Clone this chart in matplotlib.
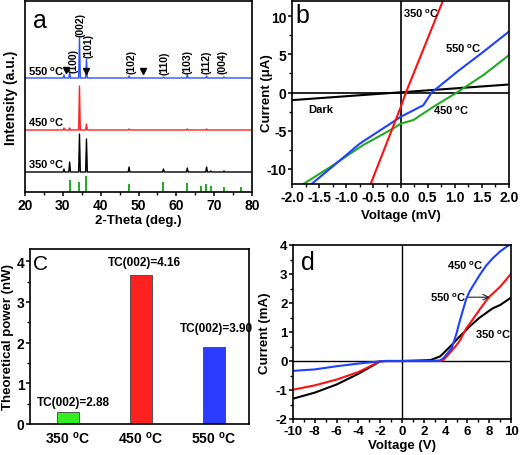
import matplotlib
matplotlib.use("Agg")
import matplotlib.pyplot as plt
import numpy as np
from matplotlib.ticker import MultipleLocator

plt.rcParams['font.family'] = ['Liberation Sans', 'DejaVu Sans']
plt.rcParams['font.weight'] = 'bold'
plt.rcParams['axes.labelweight'] = 'bold'
plt.rcParams['mathtext.fontset'] = 'custom'
plt.rcParams['mathtext.rm'] = 'Liberation Sans:bold'
plt.rcParams['mathtext.bf'] = 'Liberation Sans:bold'
plt.rcParams['axes.linewidth'] = 1.2
plt.rcParams['axes.unicode_minus'] = False

DEG = r'$^{\rm o}$C'

# ---------------- Panel a: XRD ----------------
xrd_peak_pos = [30.3, 31.8, 34.4, 36.25, 47.5, 56.6, 62.9, 68.0, 69.1, 72.6]
xrd_h550 = [3, 6, 40, 19, 2, 1, 3, 2, 0, 1]
xrd_h450 = [2, 2, 44, 6, 1, 0, 1, 1, 0, 0]
xrd_h350 = [3, 10, 38, 33, 5, 3, 4, 5, 1, 1]
xrd_base = {'550': 114, '450': 62, '350': 20}
ref_pos = [31.8, 34.4, 36.25, 47.5, 56.6, 62.9, 66.4, 67.9, 69.1, 72.6, 77.0]
ref_h = [12, 10, 16, 8, 10, 9, 6, 8, 6.5, 5, 5.5]
hkl_labels = ['(100)', '(002)', '(101)', '(102)', '(110)', '(103)', '(112)', '(004)']
hkl_x = [32.8, 34.8, 36.75, 48.2, 57.0, 62.9, 67.9, 72.2]
hkl_y = [132, 168, 147, 131, 130, 131, 131, 131]
tri_x = [30.8, 36.1, 51.1]
tri_y = [122, 121, 121]

# ---------------- Panel b: I-V (uA vs mV) ----------------
b_red_v = [-0.55, 0.0, 0.1, 0.78]
b_red_i = [-12, -2.0, 0.0, 12]
b_blue_v = [-1.64, -1.3, -0.75, -0.19, 0.0, 0.42, 0.575, 1.04, 1.53, 2.0]
b_blue_i = [-12, -10, -6.7, -4.1, -3.2, -1.67, 0.0, 2.7, 5.35, 8.0]
b_green_v = [-1.79, -1.3, -0.69, -0.13, 0.0, 0.24, 0.6, 1.04, 1.53, 2.0]
b_green_i = [-12, -9.8, -6.9, -4.7, -4.1, -3.6, -1.9, 0.0, 2.3, 4.9]
b_dark_v = [-2.0, 2.0]
b_dark_i = [-1.0, 1.05]

# ---------------- Panel c: bars ----------------
c_cats = ['350 ' + DEG, '450 ' + DEG, '550 ' + DEG]
c_power = [0.29, 3.65, 1.89]
c_tc = ['TC(002)=2.88', 'TC(002)=4.16', 'TC(002)=3.90']
c_colors = ['#33ee22', '#ff2020', '#2a3cff']

# ---------------- Panel d: I-V (mA vs V) ----------------
d_v = [-10, -8, -6, -4, -2, -1.5, 0, 2.6, 3.5, 3.8, 4.56, 5.0, 5.3, 5.9, 6.2, 7.1, 7.7, 8.1, 8.35, 9.0, 9.9, 10]
d_450 = [-0.34, -0.29, -0.18, -0.09, -0.01, 0, 0, 0, 0.02, 0.1, 0.44, 0.95, 1.38, 2.15, 2.4, 2.95, 3.28, 3.45, 3.55, 3.78, 4.02, 4.04]
d_550 = [-0.99, -0.84, -0.64, -0.38, -0.01, 0, 0, 0, 0.0, 0.03, 0.35, 0.55, 0.7, 1.13, 1.28, 1.76, 2.07, 2.25, 2.33, 2.56, 2.96, 3.0]
d_350 = [-1.3, -1.09, -0.81, -0.44, -0.01, 0, 0, 0.03, 0.16, 0.27, 0.55, 0.73, 0.85, 1.07, 1.19, 1.49, 1.65, 1.76, 1.82, 1.93, 2.16, 2.2]

fig = plt.figure(figsize=(5.2, 4.56), dpi=100)
W, H = 520.0, 456.0


def ax_at(l, t, r, b):
    return fig.add_axes([l / W, 1 - b / H, (r - l) / W, (b - t) / H])


FS = 8.5
LFS = 8.0


def bold_ticks(ax):
    for lab in ax.get_xticklabels() + ax.get_yticklabels():
        lab.set_fontweight('bold')


# ----- a -----
ax = ax_at(25, 2, 252, 193)


def xrd_line(base, heights):
    xs, ys = [20.0], [base]
    for p, h in zip(xrd_peak_pos, heights):
        if h <= 0:
            continue
        w = 0.22
        xs += [p - w, p, p + w]
        ys += [base, base + h, base]
    xs.append(80.0)
    ys.append(base)
    return xs, ys


for key, hs, col in [('550', xrd_h550, '#3050ff'), ('450', xrd_h450, '#ff2020'), ('350', xrd_h350, 'black')]:
    xs, ys = xrd_line(xrd_base[key], hs)
    ax.plot(xs, ys, color=col, lw=1.0)
ax.vlines(ref_pos, 0, ref_h, color='#22aa22', lw=1.4)
for lab, x, y in zip(hkl_labels, hkl_x, hkl_y):
    ax.text(x, y, lab, rotation=90, ha='center', va='center', fontsize=7.5, fontweight='bold')
ax.plot(tri_x, tri_y, linestyle='none', marker='v', color='black', markersize=4.5)
ax.text(20.8, 121, '550 ' + DEG, fontsize=LFS, fontweight='bold', va='center')
ax.text(20.8, 70, '450 ' + DEG, fontsize=LFS, fontweight='bold', va='center')
ax.text(20.8, 28, '350 ' + DEG, fontsize=LFS, fontweight='bold', va='center')
ax.text(22.0, 172, 'a', fontsize=18, fontweight='normal', va='center')
ax.set_xlim(20, 80)
ax.set_ylim(0, 191)
ax.xaxis.set_major_locator(MultipleLocator(10))
ax.xaxis.set_minor_locator(MultipleLocator(5))
ax.set_yticks([])
ax.tick_params(axis='x', direction='out', length=3, width=1.1, labelsize=FS + 1.5, pad=1)
ax.tick_params(axis='x', which='minor', length=2, width=1.0)
ax.set_xlabel('2-Theta (deg.)', fontsize=FS + 1)
ax.set_ylabel('Intensity (a.u.)', fontsize=FS + 1.5)
ax.yaxis.set_label_coords(-0.03, 0.5)
ax.xaxis.set_label_coords(0.5, -0.115)
bold_ticks(ax)

# ----- b -----
ax = ax_at(292, 2, 509, 185)
ax.axhline(0, color='black', lw=1.2)
ax.axvline(0, color='black', lw=1.2)
ax.plot(b_dark_v, b_dark_i, color='black', lw=1.5)
ax.plot(b_green_v, b_green_i, color='#22aa22', lw=1.5)
ax.plot(b_blue_v, b_blue_i, color='#2040ff', lw=1.5)
ax.plot(b_red_v, b_red_i, color='#ff1010', lw=1.5)
ax.text(0.04, 10.4, '350 ' + DEG, fontsize=LFS, fontweight='bold', va='center')
ax.text(0.82, 5.8, '550 ' + DEG, fontsize=LFS, fontweight='bold', va='center')
ax.text(0.6, -2.3, '450 ' + DEG, fontsize=LFS, fontweight='bold', va='center')
ax.text(-1.7, -2.2, 'Dark', fontsize=LFS, fontweight='bold', va='center')
ax.text(-1.93, 10.2, 'b', fontsize=18, fontweight='normal', va='center')
ax.set_xlim(-2, 2)
ax.set_ylim(-12, 12)
ax.xaxis.set_minor_locator(MultipleLocator(0.25))
ax.yaxis.set_major_locator(MultipleLocator(5))
ax.yaxis.set_minor_locator(MultipleLocator(2.5))
ax.set_xticks(np.arange(-2, 2.01, 0.5))
ax.set_xticklabels(['-2.0', '-1.5', '-1.0', '-0.5', '0.0', '0.5', '1.0', '1.5', '2.0'])
ax.tick_params(direction='out', length=3, width=1.1, labelsize=FS + 1.5, pad=1)
ax.tick_params(which='minor', length=2, width=1.0)
ax.set_xlabel('Voltage (mV)', fontsize=FS + 1)
ax.set_ylabel('Current (\u03bcA)', fontsize=FS + 1)
ax.yaxis.set_label_coords(-0.088, 0.5)
ax.xaxis.set_label_coords(0.5, -0.135)
bold_ticks(ax)

# ----- c -----
ax = ax_at(30, 250, 249, 425)
xpos = np.arange(len(c_power))
ax.bar(xpos, c_power, width=0.3, color=c_colors, edgecolor='#444444', linewidth=0.6)
tc_y = [0.53, 3.98, 2.36]
tc_dx = [0.07, 0.04, 0.03]
for i, (t, y) in enumerate(zip(c_tc, tc_y)):
    ax.text(xpos[i] + tc_dx[i], y, t, ha='center', va='center', fontsize=FS, fontweight='bold')
ax.text(-0.48, 3.95, 'C', fontsize=15, fontweight='normal', va='center')
ax.set_xlim(-0.52, 2.48)
ax.set_ylim(0, 4.3)
ax.set_xticks(xpos)
ax.set_xticklabels(c_cats)
ax.yaxis.set_major_locator(MultipleLocator(1))
ax.yaxis.set_minor_locator(MultipleLocator(0.5))
ax.tick_params(direction='out', length=3, width=1.1, labelsize=FS + 1.5, pad=1)
ax.tick_params(which='minor', length=2, width=1.0)
ax.tick_params(axis='x', length=0, pad=4)
ax.set_ylabel('Theoretical power (nW)', fontsize=FS + 1)
ax.yaxis.set_label_coords(-0.072, 0.5)
bold_ticks(ax)

# ----- d -----
ax = ax_at(293, 246, 511, 420)
ax.axhline(0, color='black', lw=1.0)
ax.axvline(0, color='black', lw=1.0)
ax.plot(d_v, d_350, color='black', lw=1.5)
ax.plot(d_v, d_550, color='#ff1010', lw=1.5)
ax.plot(d_v, d_450, color='#2040ff', lw=1.5)
ax.text(4.1, 3.3, '450 ' + DEG, fontsize=LFS, fontweight='bold', va='center')
ax.text(2.6, 2.2, '550 ' + DEG, fontsize=LFS, fontweight='bold', va='center')
ax.annotate('', xy=(8.3, 2.2), xytext=(5.8, 2.2),
            arrowprops=dict(arrowstyle='->', color='#222222', lw=0.8))
ax.text(6.7, 0.95, '350 ' + DEG, fontsize=LFS, fontweight='bold', va='center')
ax.text(-9.3, 3.4, 'd', fontsize=18, fontweight='normal', va='center')
ax.set_xlim(-10, 10)
ax.set_ylim(-2, 4)
ax.xaxis.set_major_locator(MultipleLocator(2))
ax.xaxis.set_minor_locator(MultipleLocator(1))
ax.yaxis.set_major_locator(MultipleLocator(1))
ax.yaxis.set_minor_locator(MultipleLocator(0.5))
ax.tick_params(direction='out', length=3, width=1.1, labelsize=FS + 1, pad=1)
ax.tick_params(which='minor', length=2, width=1.0)
ax.set_xlabel('Voltage (V)', fontsize=FS + 1)
ax.set_ylabel('Current (mA)', fontsize=FS + 1)
ax.yaxis.set_label_coords(-0.1, 0.5)
ax.xaxis.set_label_coords(0.5, -0.115)
bold_ticks(ax)

fig.savefig('out.png', dpi=100)
